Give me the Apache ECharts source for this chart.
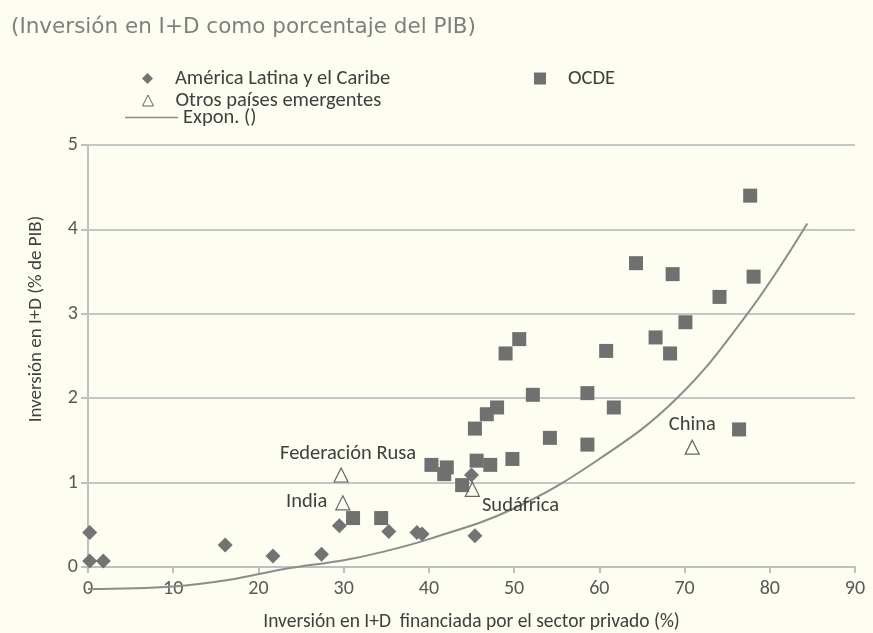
<!DOCTYPE html>
<html>
<head>
<meta charset="utf-8">
<script src="https://cdn.jsdelivr.net/npm/echarts@6/dist/echarts.min.js"></script>
<style>
html,body{margin:0;padding:0;background:#fdfdf2;}
#chart{width:873px;height:633px;}
</style>
</head>
<body>
<div id="chart"></div>
<script>
// América Latina y el Caribe: [x, y]
const latamX = [0.2, 0.2, 1.8, 16.1, 21.7, 27.4, 29.5, 35.3, 38.6, 39.2, 45.0, 45.4];
const latamY = [0.41, 0.07, 0.07, 0.26, 0.13, 0.15, 0.49, 0.42, 0.41, 0.39, 1.09, 0.37];

// OCDE
const ocdeX = [31.1, 34.4, 40.3, 42.1, 41.8, 43.9, 45.6, 47.2, 49.8, 45.4, 46.8, 48.0, 52.2, 54.2, 49.0, 50.6,
               77.7, 64.3, 68.6, 78.1, 74.1, 70.1, 66.6, 68.3, 60.8, 58.6, 61.7, 58.6, 76.4];
const ocdeY = [0.58, 0.58, 1.21, 1.18, 1.10, 0.97, 1.26, 1.21, 1.28, 1.64, 1.81, 1.89, 2.04, 1.53, 2.53, 2.70,
               4.40, 3.60, 3.47, 3.44, 3.20, 2.90, 2.72, 2.53, 2.56, 2.06, 1.89, 1.45, 1.63];

// Otros países emergentes
const otrosNames = ['Federación Rusa', 'India', 'Sudáfrica', 'China'];
const otrosX = [29.7, 29.9, 45.1, 70.9];
const otrosY = [1.09, 0.76, 0.92, 1.42];

// Tendencia exponencial
const trendX = [0, 10, 16.6, 23.2, 30, 34.2, 40, 49.9, 60, 69, 77.3, 84.4];
const trendY = [-0.26, -0.23, -0.15, -0.02, 0.08, 0.17, 0.33, 0.69, 1.28, 1.99, 2.99, 4.07];

// Ejes
const xTicks = [0, 90, 10];
const yTicks = [0, 5, 1];

const titleText = '(Inversión en I+D como porcentaje del PIB)';
const xName = 'Inversión en I+D  financiada por el sector privado (%)';
const yName = 'Inversión en I+D (% de PIB)';

const FONT = 'Carlito, Lato, "Liberation Sans", sans-serif';
const zip = (a, b) => a.map((v, i) => [v, b[i]]);

const labelCfg = {
  'Federación Rusa': { position: 'top', distance: 3, offset: [7, 0] },
  'India': { position: 'left', distance: 8, offset: [0, -1] },
  'Sudáfrica': { position: 'right', distance: 4, offset: [-2, 17] },
  'China': { position: 'top', distance: 4 }
};

const chart = echarts.init(document.getElementById('chart'));
const legendText = { fontFamily: FONT, fontSize: 20.5, color: '#404040', padding: [0, 0, 0, 17] };

chart.setOption({
  backgroundColor: '#fdfdf2',
  animation: false,
  title: {
    text: titleText, left: 6, top: 11,
    textStyle: { fontFamily: 'DejaVu Sans', fontSize: 21.5, fontWeight: 'normal', color: '#7f7f7f' }
  },
  legend: [
    { data: ['América Latina y el Caribe'], left: 137, top: 63, itemWidth: 11, itemHeight: 11, textStyle: legendText },
    { data: ['OCDE'], left: 529, top: 63, itemWidth: 12, itemHeight: 12,
      textStyle: Object.assign({}, legendText, { padding: [0, 0, 0, 17] }) },
    { data: ['Otros países emergentes'], left: 137, top: 85, itemWidth: 11, itemHeight: 11,
      itemStyle: { borderWidth: 1 }, textStyle: legendText },
    { data: [{ name: 'Expon. ()', icon: 'rect' }], left: 120, top: 102, itemWidth: 53, itemHeight: 1.5,
      textStyle: Object.assign({}, legendText, { padding: [0, 0, 0, 0] }) }
  ],
  grid: { left: 88, right: 18, top: 145, bottom: 66, containLabel: false, outerBoundsMode: 'none' },
  xAxis: {
    type: 'value', min: xTicks[0], max: xTicks[1], interval: xTicks[2],
    name: xName, nameLocation: 'middle', nameGap: 45,
    nameTextStyle: { fontFamily: FONT, fontSize: 19.5, color: '#404040' },
    axisLine: { show: true, onZero: false, lineStyle: { color: '#bfbfbf', width: 2 } },
    axisTick: { show: true, length: 6, lineStyle: { color: '#bfbfbf', width: 2 } },
    axisLabel: { fontFamily: FONT, fontSize: 20, color: '#595959', margin: 12 },
    splitLine: { show: false }
  },
  yAxis: {
    type: 'value', min: yTicks[0], max: yTicks[1], interval: yTicks[2],
    name: yName, nameLocation: 'middle', nameGap: 42, nameRotate: 90,
    nameTextStyle: { fontFamily: FONT, fontSize: 19, color: '#404040', padding: [0, 0, 0, 74] },
    axisLine: { show: true, lineStyle: { color: '#bfbfbf', width: 2 } },
    axisTick: { show: true, length: 7, lineStyle: { color: '#bfbfbf', width: 2 } },
    axisLabel: { fontFamily: FONT, fontSize: 20, color: '#595959', margin: 10 },
    splitLine: { show: true, lineStyle: { color: '#c6c6c6', width: 2 } }
  },
  series: [
    {
      name: 'Expon. ()', type: 'line', data: zip(trendX, trendY), smooth: 0.4,
      symbol: 'none', showSymbol: false, clip: false, z: 1,
      lineStyle: { color: '#8c8c8c', width: 2 }, itemStyle: { color: '#8c8c8c' }
    },
    {
      name: 'América Latina y el Caribe', type: 'scatter', data: zip(latamX, latamY),
      symbol: 'diamond', symbolSize: 15, z: 3,
      itemStyle: { color: '#737373', opacity: 1 }
    },
    {
      name: 'OCDE', type: 'scatter', data: zip(ocdeX, ocdeY),
      symbol: 'rect', symbolSize: 14, z: 2,
      itemStyle: { color: '#707070', opacity: 1 }
    },
    {
      name: 'Otros países emergentes', type: 'scatter',
      data: otrosNames.map((n, i) => ({ name: n, value: [otrosX[i], otrosY[i]], label: labelCfg[n] })),
      symbol: 'triangle', symbolSize: 14, z: 4,
      itemStyle: { color: 'rgba(253,253,242,0)', borderColor: '#666666', borderWidth: 1.2, opacity: 1 },
      label: { show: true, formatter: '{b}', fontFamily: FONT, fontSize: 20.5, color: '#404040' }
    }
  ]
});
</script>
</body>
</html>
